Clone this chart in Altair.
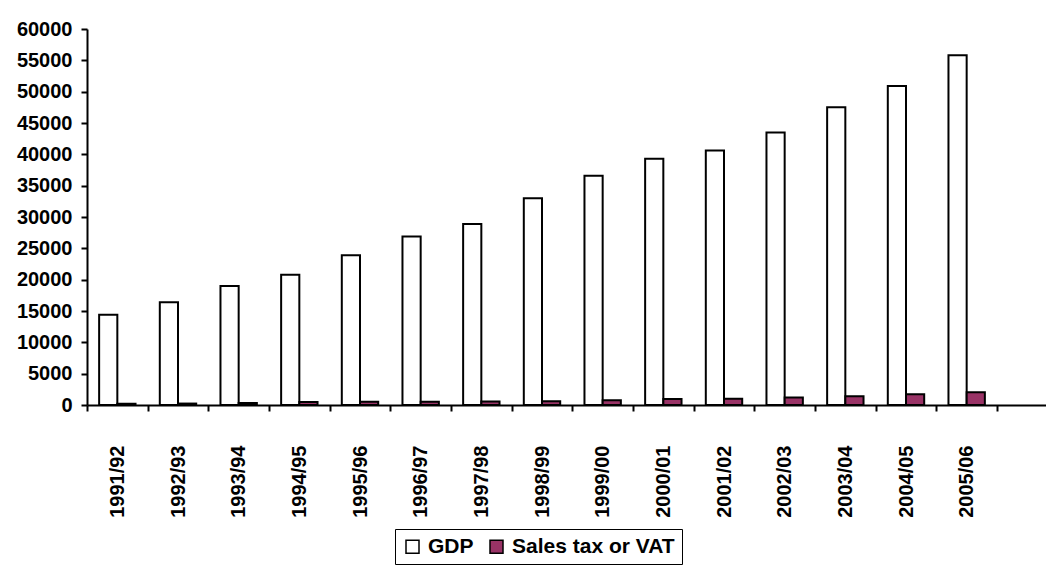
import altair as alt
import pandas as pd

# Fiscal years and the two series (values in millions)
periods = ["1991/92", "1992/93", "1993/94", "1994/95", "1995/96", "1996/97",
           "1997/98", "1998/99", "1999/00", "2000/01", "2001/02", "2002/03",
           "2003/04", "2004/05", "2005/06"]
gdp = [14400, 16400, 19000, 20800, 23900, 26900, 28900, 33000, 36600,
       39300, 40600, 43500, 47500, 50900, 55800]
sales_tax = [180, 230, 330, 480, 500, 520, 540, 580, 750, 950, 980, 1180,
             1380, 1700, 2030]
series = ["GDP", "Sales tax or VAT"]
y_ticks = list(range(0, 60001, 5000))

rows = []
for p, g, t in zip(periods, gdp, sales_tax):
    rows.append({"period": p, "series": series[0], "value": g})
    rows.append({"period": p, "series": series[1], "value": t})
df = pd.DataFrame(rows)

# one empty slot after the last year keeps the axis running on to the right
x_domain = periods + [" "]
step = 910 / len(periods)

font = "Liberation Sans"

chart = alt.Chart(df).mark_bar(stroke="black", strokeWidth=2).encode(
    x=alt.X("period:N", sort=periods,
            scale=alt.Scale(domain=x_domain, padding=0,
                            range=[0, step * len(x_domain)]),
            axis=alt.Axis(title=None, labelAngle=-90, labelFont=font,
                          labelFontSize=20, labelFontWeight="bold",
                          labelColor="black", labelPadding=34,
                          tickBand="extent", tickSize=6, tickWidth=2,
                          tickColor="black", domainColor="black",
                          domainWidth=2, grid=False)),
    xOffset=alt.XOffset("series:N", sort=series,
                        scale=alt.Scale(domain=series, paddingInner=0,
                                        paddingOuter=0.667)),
    y=alt.Y("value:Q",
            scale=alt.Scale(domain=[0, 60000], nice=False),
            axis=alt.Axis(title=None, values=y_ticks, format="d",
                          labelFont=font, labelFontSize=20,
                          labelFontWeight="bold", labelColor="black",
                          labelPadding=9, tickSize=6, tickWidth=2,
                          tickColor="black", domainColor="black",
                          domainWidth=2, grid=False)),
    color=alt.Color("series:N", sort=series,
                    scale=alt.Scale(domain=series, range=["white", "#993366"]),
                    legend=alt.Legend(title=None, orient="none",
                                      direction="horizontal",
                                      legendX=308, legendY=500)),
).properties(
    width=959,
    height=376,
    autosize=alt.AutoSizeParams(type="none"),
    padding={"left": 87, "top": 29, "right": 0, "bottom": 161},
).configure_view(
    stroke=None
).configure_legend(
    labelFont=font,
    labelFontSize=21,
    labelFontWeight="bold",
    labelColor="black",
    labelLimit=400,
    symbolType="square",
    symbolSize=169,
    symbolStrokeColor="black",
    symbolStrokeWidth=1.5,
    strokeColor="black",
    padding=7,
    columnPadding=12,
    labelOffset=5,
)

chart.save("out.html", embed_options={"renderer": "svg", "actions": False})
